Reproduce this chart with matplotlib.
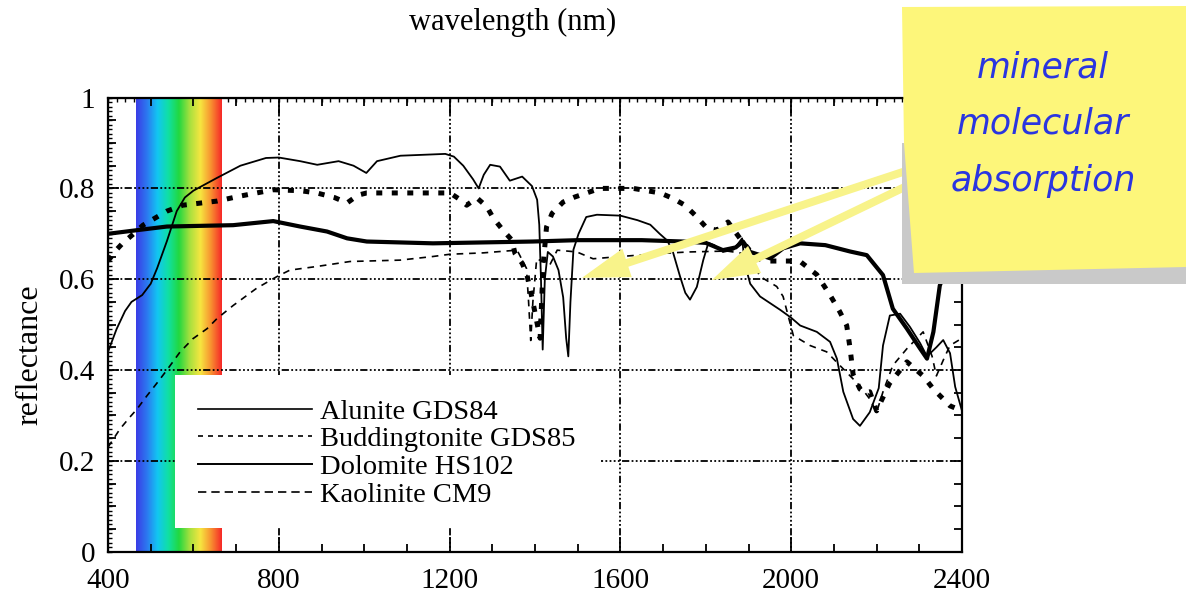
import numpy as np
import matplotlib
matplotlib.use("Agg")
import matplotlib.pyplot as plt
from matplotlib.colors import LinearSegmentedColormap
from matplotlib.lines import Line2D
from matplotlib.patches import Polygon, Rectangle
from matplotlib.ticker import MultipleLocator

# spectra (wavelength in nm, reflectance)
alunite_wl = [400, 420, 440, 455, 480, 500, 515, 538, 561, 580, 600, 655, 710, 770, 800,
              850, 890, 940, 975, 1005, 1030, 1085, 1190, 1210, 1232, 1255, 1268, 1280,
              1295, 1318, 1341, 1370, 1393, 1405, 1410, 1414, 1418, 1423, 1430, 1442,
              1455, 1466, 1473, 1478, 1483, 1490, 1502, 1520, 1545, 1600, 1640, 1670,
              1692, 1710, 1723, 1740, 1752, 1763, 1779, 1794, 1806, 1820, 1840, 1865,
              1885, 1891, 1904, 1927, 1951, 1975, 2000, 2021, 2060, 2091, 2107, 2122,
              2145, 2161, 2184, 2205, 2215, 2231, 2255, 2278, 2302, 2318, 2340, 2356,
              2372, 2384, 2400]
alunite_r = [0.44, 0.49, 0.53, 0.55, 0.565, 0.59, 0.624, 0.684, 0.75, 0.78, 0.795, 0.823,
             0.85, 0.867, 0.868, 0.86, 0.852, 0.86, 0.85, 0.834, 0.86, 0.872, 0.876, 0.87,
             0.85, 0.82, 0.80, 0.83, 0.852, 0.848, 0.817, 0.826, 0.805, 0.775, 0.72, 0.60,
             0.445, 0.60, 0.66, 0.65, 0.62, 0.56, 0.47, 0.43, 0.55, 0.665, 0.70, 0.737,
             0.742, 0.74, 0.73, 0.72, 0.70, 0.685, 0.66, 0.605, 0.57, 0.555, 0.583, 0.642,
             0.68, 0.675, 0.66, 0.665, 0.69, 0.635, 0.59, 0.562, 0.547, 0.532, 0.515,
             0.498, 0.484, 0.462, 0.425, 0.352, 0.292, 0.277, 0.307, 0.36, 0.454, 0.52,
             0.524, 0.495, 0.459, 0.43, 0.45, 0.466, 0.437, 0.363, 0.31]

budd_wl = [400, 428, 451, 468, 491, 517, 538, 569, 599, 632, 655, 693, 748, 796, 826, 889,
           967, 1084, 1161, 1201, 1279, 1358, 1380, 1385, 1390, 1395, 1404, 1435, 1452,
           1498, 1536, 1600, 1700, 1760, 1850, 1900, 1927, 1966, 1981, 2005, 2044, 2083,
           2114, 2161, 2184, 2200, 2215, 2238, 2271, 2309, 2330, 2340, 2360, 2372, 2400]
budd_r = [0.23, 0.27, 0.296, 0.314, 0.343, 0.374, 0.40, 0.44, 0.469, 0.491, 0.513, 0.542,
          0.58, 0.606, 0.62, 0.628, 0.639, 0.642, 0.65, 0.655, 0.658, 0.664, 0.624, 0.55,
          0.465, 0.55, 0.645, 0.632, 0.664, 0.66, 0.645, 0.65, 0.657, 0.66, 0.662, 0.655,
          0.606, 0.584, 0.562, 0.476, 0.454, 0.44, 0.41, 0.365, 0.336, 0.307, 0.352, 0.41,
          0.447, 0.484, 0.43, 0.387, 0.43, 0.454, 0.47]

dolomite_wl = [400, 468, 538, 693, 787, 850, 913, 960, 1006, 1161, 1395, 1500, 1650, 1747,
               1800, 1840, 1870, 1887, 1904, 1951, 1981, 2021, 2080, 2138, 2177, 2215,
               2238, 2271, 2302, 2318, 2333, 2348, 2370, 2400]
dolomite_r = [0.70, 0.708, 0.716, 0.719, 0.728, 0.716, 0.705, 0.69, 0.683, 0.679, 0.683,
              0.686, 0.686, 0.683, 0.68, 0.664, 0.67, 0.683, 0.66, 0.646, 0.668, 0.679,
              0.675, 0.661, 0.653, 0.609, 0.535, 0.491, 0.447, 0.425, 0.484, 0.586, 0.64,
              0.66]

kaol_wl = [400, 420, 435, 460, 482, 538, 575, 655, 709, 787, 850, 889, 930, 960, 985, 1006,
           1100, 1201, 1225, 1240, 1264, 1287, 1302, 1325, 1346, 1353, 1370, 1381, 1395,
           1404, 1412, 1419, 1427, 1440, 1466, 1493, 1521, 1552, 1630, 1693, 1723, 1751,
           1775, 1803, 1826, 1852, 1880, 1910, 1934, 2000, 2021, 2060, 2091, 2114, 2130,
           2138, 2145, 2161, 2175, 2184, 2200, 2210, 2230, 2271, 2309, 2333, 2372, 2400]
kaol_r = [0.64, 0.665, 0.68, 0.70, 0.719, 0.75, 0.763, 0.772, 0.783, 0.797, 0.795, 0.79,
          0.78, 0.768, 0.785, 0.79, 0.79, 0.79, 0.775, 0.763, 0.779, 0.76, 0.735, 0.708,
          0.686, 0.657, 0.635, 0.61, 0.55, 0.507, 0.47, 0.63, 0.715, 0.745, 0.77, 0.781,
          0.79, 0.80, 0.80, 0.79, 0.778, 0.763, 0.741, 0.712, 0.708, 0.726, 0.69, 0.655,
          0.64, 0.64, 0.639, 0.61, 0.565, 0.528, 0.498, 0.447, 0.39, 0.358, 0.35, 0.352,
          0.31, 0.33, 0.37, 0.418, 0.387, 0.358, 0.321, 0.31]

labels = ["Alunite GDS84", "Buddingtonite GDS85", "Dolomite HS102", "Kaolinite CM9"]
x_ticks = [400, 800, 1200, 1600, 2000, 2400]
y_ticks = [0, 0.2, 0.4, 0.6, 0.8, 1]
y_tick_labels = ["0", "0.2", "0.4", "0.6", "0.8", "1"]
visible_band = [466, 666]
spectrum_colors = ["#3a3ce6", "#2c78f0", "#12c6f2", "#10e0a4", "#22d840",
                   "#a6e03e", "#f6e640", "#f89030", "#f62828"]
note_lines = ["mineral", "molecular", "absorption"]

W, H = 1186, 595
serif = "Liberation Serif"

fig = plt.figure(figsize=(W / 100, H / 100), dpi=100)
ax = fig.add_axes([108 / W, 1 - 551.6 / H, 854 / W, 454 / H])

# visible light band
spec = LinearSegmentedColormap.from_list("spec", spectrum_colors)
ax.imshow(np.linspace(0, 1, 256)[None, :], cmap=spec, aspect="auto",
          extent=[visible_band[0], visible_band[1], 0, 1], zorder=1)

# white block behind the legend
ax.add_patch(Rectangle((557, 0.052), 1555 - 557, 0.389 - 0.052, fc="white", ec="none", zorder=2))

ax.plot(alunite_wl, alunite_r, color="black", lw=1.3, zorder=4)
ax.plot(budd_wl, budd_r, color="black", lw=1.2, dashes=(4, 3.5), zorder=4)
ax.plot(dolomite_wl, dolomite_r, color="black", lw=3.0, zorder=4)
ax.plot(kaol_wl, kaol_r, color="black", lw=3.6, dashes=(1.2, 1.9), dash_capstyle="butt", zorder=4)

ax.set_xlim(400, 2400)
ax.set_ylim(0, 1)
ax.set_xticks(x_ticks)
ax.set_xticklabels([str(v) for v in x_ticks], family=serif, fontsize=21)
ax.set_yticks(y_ticks)
ax.set_yticklabels(y_tick_labels, family=serif, fontsize=21)
ax.xaxis.set_minor_locator(MultipleLocator(100))
ax.yaxis.set_minor_locator(MultipleLocator(0.05))
ax.tick_params(which="both", direction="in", top=True, right=True, width=1.3, color="black")
ax.tick_params(axis="x", which="major", length=11, pad=12)
ax.tick_params(axis="x", which="minor", length=6)
ax.tick_params(axis="y", which="major", length=8, pad=9)
ax.tick_params(axis="y", which="minor", length=6)
for s in ax.spines.values():
    s.set_linewidth(1.6)

# fine ticks along the top and left edges
top = ax.secondary_xaxis("top")
top.set_xticks([])
top.xaxis.set_minor_locator(MultipleLocator(20))
top.tick_params(which="minor", direction="in", length=3, width=1.0)
left = ax.secondary_yaxis("left")
left.set_yticks([])
left.yaxis.set_minor_locator(MultipleLocator(0.01))
left.tick_params(which="minor", direction="in", length=3, width=1.0)

ax.set_axisbelow("line")
ax.grid(True, which="major", color="black", lw=1.3,
        dashes=(1, 1.3, 1, 1.3, 1, 1.3, 1, 1.3, 4, 1.3))

# legend with thin handles as in the original
handles = [Line2D([], [], color="black", lw=1.2),
           Line2D([], [], color="black", lw=1.2, dashes=(3, 3)),
           Line2D([], [], color="black", lw=1.4),
           Line2D([], [], color="black", lw=1.2, dashes=(5, 3))]
ax.legend(handles, labels, loc="upper left", bbox_to_anchor=(0.105, 0.337), frameon=False,
          prop={"family": serif, "size": 20.5}, handlelength=4.0, handletextpad=0.3,
          labelspacing=0.07, borderpad=0, borderaxespad=0)

fig.text(513 / W, 1 - 22 / H, "wavelength (nm)", ha="center", va="center",
         family=serif, fontsize=22)
fig.text(30 / W, 1 - 355 / H, "reflectance", ha="center", va="center", rotation=90,
         family=serif, fontsize=23)

# yellow arrows to the absorption bands
arrow_props = dict(arrowstyle="simple,head_length=0.95,head_width=0.6,tail_width=0.16",
                   mutation_scale=36, fc="#f8f38a", ec="none", shrinkA=0, shrinkB=0)
ax.annotate("", xy=(1510, 0.603), xytext=(2290, 0.845), arrowprops=arrow_props,
            annotation_clip=False, zorder=6)
ax.annotate("", xy=(1814, 0.598), xytext=(2290, 0.814), arrowprops=arrow_props,
            annotation_clip=False, zorder=6)


def fp(x, y):
    return (x / W, 1 - y / H)


# sticky note
shadow = Polygon([fp(902, 143), fp(1186, 143), fp(1186, 284), fp(902, 284)],
                 closed=True, transform=fig.transFigure, fc="#c9c9c9", ec="none", zorder=10)
note = Polygon([fp(902, 7), fp(1186, 6), fp(1186, 267), fp(914, 273), fp(904, 143)],
               closed=True, transform=fig.transFigure, fc="#fdf67a", ec="none", zorder=11)
fig.patches.extend([shadow, note])
for txt, yy in zip(note_lines, [67, 124, 181]):
    fig.text(1043 / W, 1 - yy / H, txt, ha="center", va="center", color="#2a35e0",
             style="italic", family="DejaVu Sans", fontsize=25, zorder=12)

fig.savefig("out.png", dpi=100)
